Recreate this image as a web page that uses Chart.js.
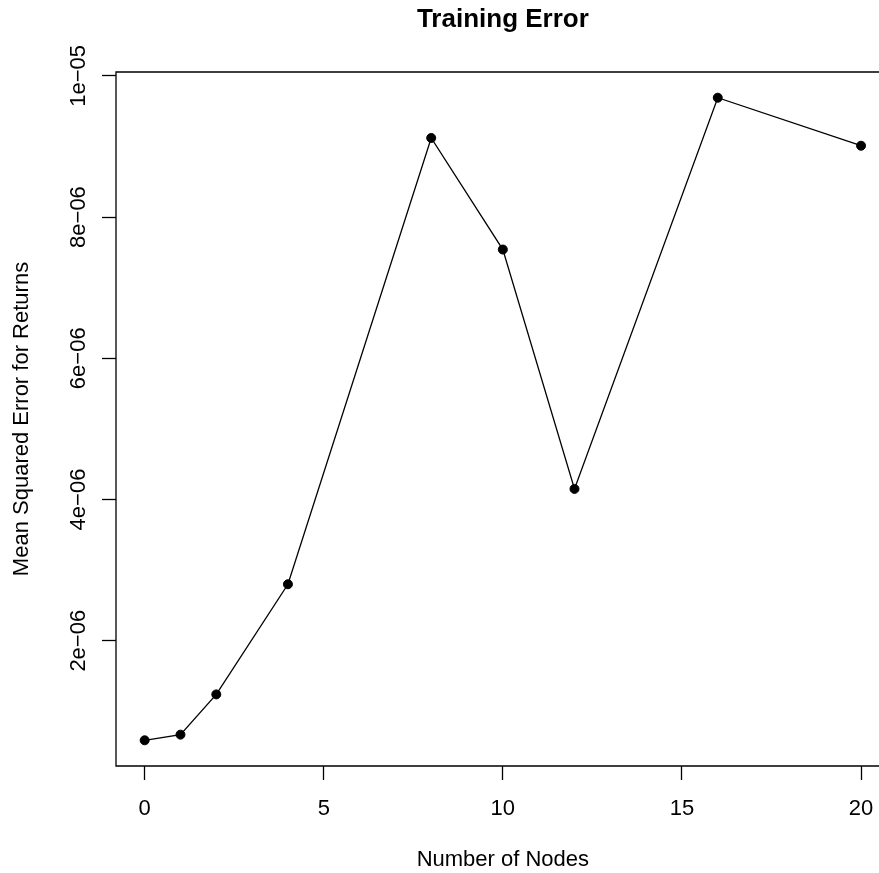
<!doctype html>
<html lang="en">
<head>
<meta charset="UTF-8" />
<title>Training Error</title>
<style>
  html, body { margin: 0; padding: 0; background: #fff; overflow: hidden; }
  #wrap { width: 879px; height: 873px; overflow: hidden; }
</style>
</head>
<body>
<div id="wrap"><canvas id="chart" width="900" height="873"></canvas></div>
<script src="https://cdn.jsdelivr.net/npm/chart.js@4.4.1/dist/chart.umd.min.js"></script>
<script>
  // values
  const nodes = [0, 1, 2, 4, 8, 10, 12, 16, 20];
  const mse = [0.59e-6, 0.67e-6, 1.24e-6, 2.80e-6, 9.12e-6, 7.54e-6, 4.15e-6, 9.69e-6, 9.01e-6];

  const xTicks = [0, 5, 10, 15, 20];
  const yTicks = [2e-6, 4e-6, 6e-6, 8e-6, 1e-5];
  const yTickLabels = ['2e\u221206', '4e\u221206', '6e\u221206', '8e\u221206', '1e\u221205'];

  const FONT = "'Liberation Sans', Arial, Helvetica, sans-serif";

  // R style axis limits: data range plus 4% each side
  function padRange(lo, hi) {
    const r = hi - lo;
    return [lo - 0.04 * r, hi + 0.04 * r];
  }
  const [xMin, xMax] = padRange(Math.min(...nodes), Math.max(...nodes));
  const [yMin, yMax] = padRange(Math.min(...mse), Math.max(...mse));

  // plot frame (R box()); only top, left and bottom, the right side is cropped in the original
  const boxPlugin = {
    id: 'box',
    beforeDatasetsDraw(chart) {
      const { ctx, chartArea: a } = chart;
      ctx.save();
      ctx.strokeStyle = '#000';
      ctx.lineWidth = 1.3;
      ctx.beginPath();
      ctx.moveTo(a.right, a.top);
      ctx.lineTo(a.left, a.top);
      ctx.lineTo(a.left, a.bottom);
      ctx.lineTo(a.right, a.bottom);
      ctx.stroke();
      ctx.restore();
    }
  };

  // rotated y tick labels, like R's las=0
  const yLabelPlugin = {
    id: 'yLabels',
    afterDraw(chart) {
      const ctx = chart.ctx;
      const y = chart.scales.y;
      ctx.save();
      ctx.font = '22px ' + FONT;
      ctx.fillStyle = '#000';
      ctx.textAlign = 'center';
      ctx.textBaseline = 'middle';
      y.ticks.forEach((t, i) => {
        const py = y.getPixelForValue(t.value);
        ctx.save();
        ctx.translate(79, py);
        ctx.rotate(-Math.PI / 2);
        ctx.fillText(yTickLabels[i], 0, 0);
        ctx.restore();
      });
      ctx.restore();
    }
  };

  const ctx = document.getElementById('chart').getContext('2d');
  new Chart(ctx, {
    type: 'line',
    data: {
      datasets: [{
        data: nodes.map((n, i) => ({ x: n, y: mse[i] })),
        borderColor: '#000',
        borderWidth: 1.3,
        backgroundColor: '#000',
        pointRadius: 4.5,
        pointBorderWidth: 1,
        pointBackgroundColor: '#000',
        pointBorderColor: '#000',
        tension: 0,
        fill: false,
        clip: false
      }]
    },
    options: {
      responsive: false,
      animation: false,
      devicePixelRatio: 1,
      // canvas is wider than the page: the plot region runs past the image edge
      layout: { autoPadding: false, padding: { top: 0, right: 10.3, bottom: 0, left: 0 } },
      plugins: {
        legend: { display: false },
        tooltip: { enabled: false },
        title: {
          display: true,
          fullSize: false,
          text: 'Training Error',
          color: '#000',
          font: { family: FONT, size: 26, weight: 'bold' },
          padding: { top: 4.4, bottom: 36.4 }
        }
      },
      scales: {
        x: {
          type: 'linear',
          min: xMin,
          max: xMax,
          afterBuildTicks: s => { s.ticks = xTicks.map(v => ({ value: v })); },
          afterFit: s => { s.height = 107; },
          ticks: {
            color: '#000',
            font: { family: FONT, size: 22 },
            padding: 15.3,
            maxRotation: 0,
            callback: v => String(v)
          },
          grid: {
            drawOnChartArea: false,
            drawTicks: true,
            tickLength: 14,
            tickWidth: 1.3,
            tickColor: '#000'
          },
          border: { display: false },
          title: {
            display: true,
            text: 'Number of Nodes',
            color: '#000',
            font: { family: FONT, size: 22 },
            padding: { top: 0, bottom: 0 }
          }
        },
        y: {
          type: 'linear',
          min: yMin,
          max: yMax,
          afterBuildTicks: s => { s.ticks = yTicks.map(v => ({ value: v })); },
          afterFit: s => { s.width = 116; },
          ticks: { display: false },
          grid: {
            drawOnChartArea: false,
            drawTicks: true,
            tickLength: 14,
            tickWidth: 1.3,
            tickColor: '#000'
          },
          border: { display: false },
          title: {
            display: true,
            text: 'Mean Squared Error for Returns',
            color: '#000',
            font: { family: FONT, size: 22 },
            padding: { top: 9, bottom: 0 }
          }
        }
      }
    },
    plugins: [boxPlugin, yLabelPlugin]
  });
</script>
</body>
</html>
